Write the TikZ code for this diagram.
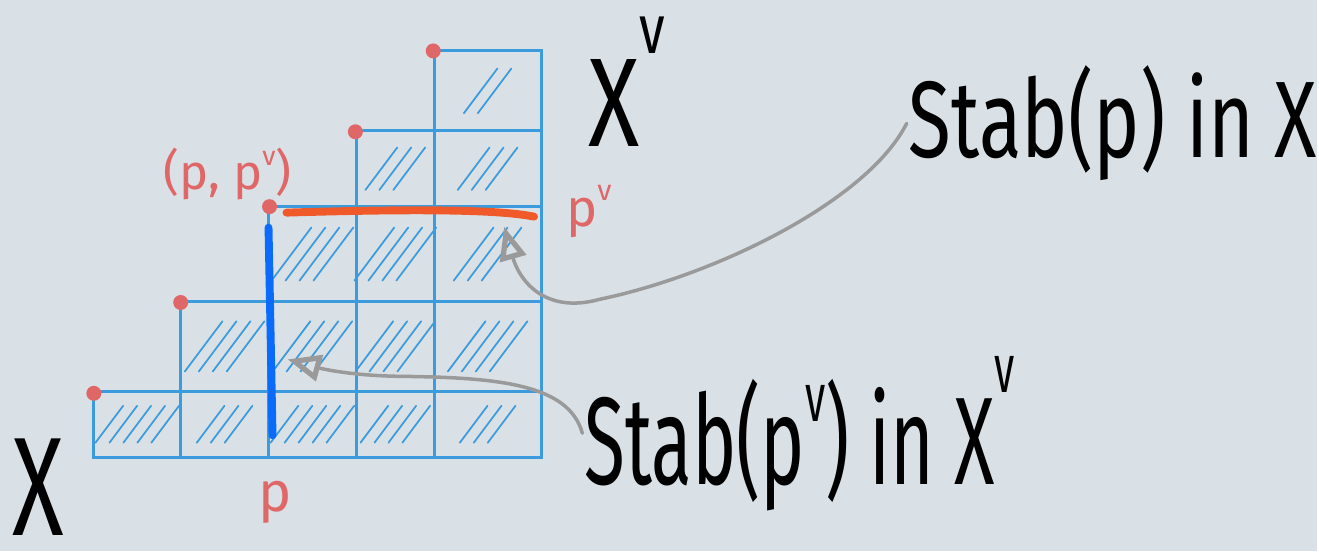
\documentclass[tikz,border=0pt]{standalone}
\usepackage{fontspec}
\setsansfont{Fira Sans}
\usepackage{graphicx}
\usetikzlibrary{arrows.meta}
\definecolor{PaperMist}{HTML}{D9E1E7}
\definecolor{GridBlue}{HTML}{3C9BDC}
\definecolor{DotRed}{HTML}{E06767}
\definecolor{StabOrange}{HTML}{F05A2A}
\definecolor{StabBlue}{HTML}{0A6BFA}
\definecolor{PointerGray}{HTML}{9A9A9A}
\newcommand{\HandFont}{\sffamily}
\newcommand{\narrow}[2]{\scalebox{#1}[1]{#2}}
\newcommand{\dual}[1][0.74em]{\raisebox{#1}{\scalebox{0.55}{v}}}

\begin{document}
\begin{tikzpicture}[x=0.02cm, y=-0.02cm,
  corner/.style={circle, fill=DotRed, inner sep=0pt, minimum size=0.3cm},
  hand/.style={inner sep=1pt, text=black},
  redlabel/.style={inner sep=1pt, text=DotRed},
  pointer/.style={PointerGray, line width=2pt, line cap=round,
    -{Triangle[open, length=19pt, width=15pt, line width=3pt]}}]
  % paper
  \fill[PaperMist] (0,0) rectangle (1319,552);
  % staircase of boxes, hatched
  \foreach \l/\t/\r/\b/\n in {94/392/181/458/5, 181/392/269/458/3, 269/392/357/458/5,
      357/392/435/458/4, 435/392/542/458/3,
      181/302/269/392/4, 269/302/357/392/4, 357/302/435/392/4, 435/302/542/392/4,
      269/207/357/302/4, 357/207/435/302/4, 435/207/542/302/3,
      357/131/435/207/3, 435/131/542/207/3,
      435/51/542/131/2} {
    \draw[GridBlue, line width=1.7pt] (\l,\t) rectangle (\r,\b);
    \pgfmathsetmacro{\cx}{(\l+\r)/2}
    \pgfmathsetmacro{\cy}{(\t+\b)/2}
    \pgfmathsetmacro{\hh}{0.28*(\b-\t)}
    \foreach \k in {1,...,\n}
      \draw[GridBlue, line width=1pt, line cap=round]
        ({\cx+(\k-(\n+1)/2)*14-0.75*\hh},{\cy+\hh}) -- ++({1.5*\hh},{-2*\hh});
  }
  % the two stabilisers
  \draw[StabBlue, line width=4.5pt, line cap=round] (269,228) .. controls (271,330) .. (273,436);
  \draw[StabOrange, line width=4.5pt, line cap=round] (287,213) .. controls (420,209) and (500,210) .. (535,217);
  % corners
  \node[corner] (d1) at (94,394) {};
  \node[corner] (d2) at (181,303) {};
  \node[corner] (d3) at (270,207) {};
  \node[corner] (d4) at (356,132) {};
  \node[corner] (d5) at (434,51) {};
  % labels
  \node[redlabel, anchor=base, font={\HandFont\fontsize{28pt}{28pt}\selectfont}] (pair) at (228,190) {(p, p\dual[0.5em])};
  \node[redlabel, anchor=base, font={\HandFont\fontsize{30pt}{30pt}\selectfont}] (pdual) at (590,227) {p\dual[0.5em]};
  \node[redlabel, anchor=base, font={\HandFont\fontsize{32pt}{32pt}\selectfont}] (pbot) at (276,512) {p};
  \node[hand, anchor=base, font={\HandFont\fontsize{80pt}{80pt}\selectfont}] (xleft) at (38,536) {\narrow{0.68}{X}};
  \node[hand, anchor=base, font={\HandFont\fontsize{72pt}{72pt}\selectfont}] (xdual) at (628,147) {\narrow{0.75}{X\dual}};
  \node[hand, anchor=base, font={\HandFont\fontsize{62pt}{62pt}\selectfont}] (stabp) at (1115,158) {\narrow{0.72}{Stab(p) in X}};
  \node[hand, anchor=base, font={\HandFont\fontsize{71pt}{71pt}\selectfont}] (stabpv) at (801,485) {\narrow{0.6}{Stab(p\dual[0.5em]) in X\dual}};
  % pointers
  \coordinate (tipA) at (505,227);
  \coordinate (tipB) at (288,360);
  \draw[pointer] (stabp.west) .. controls (870,200) and (720,275) .. (600,300)
    .. controls (545,315) and (520,280) .. (tipA);
  \draw[pointer] (stabpv.west) .. controls (570,385) and (500,378) .. (400,377)
    .. controls (340,376) and (310,366) .. (tipB);
\end{tikzpicture}
\end{document}
